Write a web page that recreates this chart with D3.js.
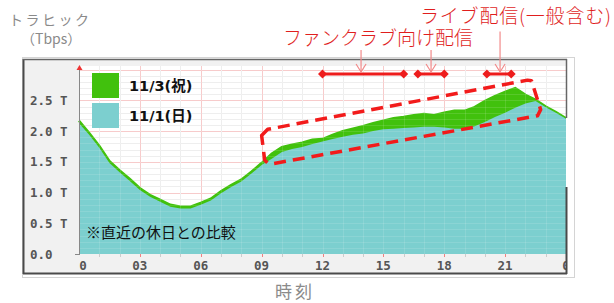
<!DOCTYPE html>
<html><head><meta charset="utf-8">
<script src="https://cdn.jsdelivr.net/npm/d3@7"></script>
<style>html,body{margin:0;padding:0;background:#fff;}svg{display:block;}</style>
</head><body>
<svg id="c" width="614" height="303"></svg>
<script>
// ---- data ----
const hours = [0,0.5,1,1.5,2,2.5,3,3.5,4,4.5,5,5.5,6,6.5,7,7.5,8,8.5,9,9.5,10,10.5,11,11.5,12,12.5,13,13.5,14,14.5,15,15.5,16,16.5,17,17.5,18,18.5,19,19.5,20,20.5,21,21.5,22,22.5,23,23.5,24];
const sun1101 = [2.13,1.94,1.73,1.48,1.33,1.19,1.04,0.93,0.85,0.77,0.74,0.74,0.80,0.87,0.99,1.09,1.18,1.31,1.45,1.55,1.66,1.71,1.74,1.79,1.83,1.87,1.91,1.94,1.96,2.00,2.03,2.04,2.05,2.06,2.07,2.07,2.06,2.04,2.04,2.08,2.15,2.23,2.30,2.38,2.45,2.49,2.39,2.30,2.20];
const hol1103 = [2.17,1.97,1.76,1.51,1.36,1.22,1.07,0.96,0.88,0.80,0.77,0.77,0.83,0.90,1.02,1.12,1.21,1.34,1.48,1.63,1.74,1.78,1.81,1.86,1.87,1.94,2.00,2.04,2.08,2.13,2.17,2.21,2.23,2.26,2.28,2.26,2.30,2.33,2.33,2.39,2.49,2.57,2.64,2.70,2.59,2.51,2.40,2.31,2.21];
const seriesNames = ["11/3(祝)","11/1(日)"];
const yTicks = [0,0.5,1.0,1.5,2.0,2.5];
const yTickLabels = ["0.0","0.5 T","1.0 T","1.5 T","2.0 T","2.5 T"];
const xTicks = [0,3,6,9,12,15,18,21,24];
const xTickLabels = ["0","03","06","09","12","15","18","21","0"];
// annotation ranges (hours) and labels
const liveRanges = [[12,16],[16.7,18],[20.1,21.3]];
const arrowHours = [13.9,17.35,20.75];
const annoLabels = ["ファンクラブ向け配信","ライブ配信(一般含む)"];
// dashed highlight region corners (hour, Tbps)
const boxPts = [[9.0,1.93],[9.3,2.03],[22.1,2.83],[22.3,2.82],[22.75,2.35],[22.6,2.25],[9.55,1.47],[9.3,1.48],[9.15,1.53]];

// ---- chart ----
const svg = d3.select("#c");
const x = d3.scaleLinear().domain([0,24]).range([79,566]);
const y = d3.scaleLinear().domain([0,3.06]).range([254,66]);
const GREEN="#41c10d", CYAN="#7ccfcf";

// frame
svg.append("rect").attr("x",22.5).attr("y",57.5).attr("width",552).attr("height",220).attr("fill","none").attr("stroke","#d4d4d4");
svg.append("rect").attr("x",23).attr("y",59).attr("width",543).attr("height",214).attr("fill","#f1f1f1");
svg.append("rect").attr("x",x(0)).attr("y",y(3.06)).attr("width",x(24)-x(0)).attr("height",y(0)-y(3.06)).attr("fill","#fff");

const grid = svg.append("g");
function drawGrid(g, minorC, majorC, op){
  d3.range(0.1,3.06,0.1).forEach(v=>{
    const major = Math.abs(v*2-Math.round(v*2))<1e-6;
    g.append("line").attr("x1",x(0)).attr("x2",x(24)).attr("y1",Math.round(y(v))+0.5).attr("y2",Math.round(y(v))+0.5)
     .attr("stroke",major?majorC:minorC).attr("stroke-opacity",op);
  });
  d3.range(1,24,1).forEach(h=>{
    g.append("line").attr("y1",y(0)).attr("y2",y(3.06)).attr("x1",Math.round(x(h))+0.5).attr("x2",Math.round(x(h))+0.5)
     .attr("stroke",h%3===0?majorC:minorC).attr("stroke-opacity",op);
  });
}
drawGrid(grid,"#ececec","#f6c4c4",1);

const gData = hours.map((h,i)=>({h,v:hol1103[i]}));
const sData = hours.map((h,i)=>({h,v:sun1101[i]}));
const area = d3.area().x(d=>x(d.h)).y0(y(0)).y1(d=>y(d.v));
const line = d3.line().x(d=>x(d.h)).y(d=>y(d.v));
svg.append("path").datum(gData).attr("d",area).attr("fill",GREEN);
svg.append("path").datum(gData).attr("d",line).attr("fill","none").attr("stroke",GREEN).attr("stroke-width",2.5);
svg.append("path").datum(sData).attr("d",area).attr("fill",CYAN);
const grid2 = svg.append("g");
drawGrid(grid2,"#ffffff","#ffffff",0.12);

// axes
svg.append("line").attr("x1",79.5).attr("x2",79.5).attr("y1",y(0)).attr("y2",y(3.06)+2).attr("stroke","#888");
svg.append("path").attr("d",`M76.5,${y(3.06)+4}L79.5,${y(3.06)-1}L82.5,${y(3.06)+4}Z`).attr("fill","#e33");
svg.append("line").attr("x1",75).attr("x2",80).attr("y1",y(0)+0.5).attr("y2",y(0)+0.5).attr("stroke","#888");
d3.range(1,24,1).forEach(h=>{
  svg.append("line").attr("x1",Math.round(x(h))+0.5).attr("x2",Math.round(x(h))+0.5).attr("y1",y(0)).attr("y2",y(0)+3)
   .attr("stroke",h%3===0?"#f08080":"#ccc");
});
const yl = svg.append("g").attr("font-family","DejaVu Sans Mono").attr("font-weight","bold").attr("font-size","12.5px").attr("fill","#555");
yTicks.forEach((v,i)=>{
  yl.append("text").attr("x",30).attr("y",y(v)).attr("dy","0.36em").text(yTickLabels[i]);
});
svg.append("defs").append("clipPath").attr("id","clipx").append("rect").attr("x",0).attr("y",0).attr("width",566).attr("height",303);
const xl = svg.append("g").attr("clip-path","url(#clipx)").attr("font-family","DejaVu Sans Mono").attr("font-weight","bold").attr("font-size","12.5px").attr("fill","#555").attr("text-anchor","middle");
xTicks.forEach((h,i)=>{
  xl.append("text").attr("x",x(h)+(i===0?4:0)).attr("y",265).attr("dy","0.36em").text(xTickLabels[i]);
});

// frame dark borders
const B="#4a4a4a";
svg.append("line").attr("x1",23.5).attr("x2",23.5).attr("y1",59).attr("y2",274).attr("stroke",B).attr("stroke-width",2);
svg.append("line").attr("x1",23).attr("x2",567).attr("y1",59.5).attr("y2",59.5).attr("stroke","#666").attr("stroke-width",1.5);
svg.append("line").attr("x1",23).attr("x2",567).attr("y1",273.5).attr("y2",273.5).attr("stroke",B).attr("stroke-width",2);
svg.append("line").attr("x1",566.5).attr("x2",566.5).attr("y1",59).attr("y2",118).attr("stroke","#666").attr("stroke-width",1.5);
svg.append("line").attr("x1",566.5).attr("x2",566.5).attr("y1",187).attr("y2",274).attr("stroke",B).attr("stroke-width",2);

// legend
svg.append("rect").attr("x",92).attr("y",73).attr("width",27).attr("height",25).attr("fill",GREEN);
svg.append("rect").attr("x",92).attr("y",103).attr("width",27).attr("height",25).attr("fill",CYAN);
const lg = svg.append("g").attr("font-family","DejaVu Sans, Noto Sans CJK JP").attr("font-weight","bold").attr("font-size","14.5px").attr("fill","#111");
lg.append("text").attr("x",129).attr("y",86).attr("dy","0.36em").text(seriesNames[0]);
lg.append("text").attr("x",129).attr("y",116).attr("dy","0.36em").text(seriesNames[1]);
svg.append("text").attr("x",86).attr("y",233).attr("dy","0.36em").attr("font-family","Noto Sans CJK JP").attr("font-size","15px").attr("fill","#111").text("※直近の休日との比較");

// titles
svg.append("text").attr("x",9).attr("y",20).attr("dy","0.36em").attr("font-family","Noto Sans CJK JP").attr("font-size","14px").attr("letter-spacing","2.5px").attr("fill","#8a8a8a").text("トラヒック");
svg.append("text").attr("x",21).attr("y",39).attr("dy","0.36em").attr("font-family","Noto Sans CJK JP").attr("font-size","14px").attr("fill","#8a8a8a").text("（Tbps）");
svg.append("text").attr("x",275).attr("y",292).attr("dy","0.36em").attr("font-family","Noto Sans CJK JP").attr("font-size","17px").attr("letter-spacing","3px").attr("fill","#8a8a8a").text("時刻");

// dashed highlight box
svg.append("path").datum(boxPts).attr("d",d3.line().x(d=>x(d[0])).y(d=>y(d[1])).curve(d3.curveLinearClosed))
  .attr("fill","none").attr("stroke","#f21b1b").attr("stroke-width",3.5).attr("stroke-dasharray","12,7").attr("stroke-linejoin","round");

// range bars
const RED="#ee1c1c";
const barV = 2.93;
liveRanges.forEach(r=>{
  svg.append("line").attr("x1",x(r[0])).attr("x2",x(r[1])).attr("y1",y(barV)).attr("y2",y(barV)).attr("stroke",RED).attr("stroke-width",3);
  r.forEach(h=>{
    const cx=x(h), cy=y(barV);
    svg.append("path").attr("d",`M${cx-4.5},${cy}L${cx},${cy-4.5}L${cx+4.5},${cy}L${cx},${cy+4.5}Z`).attr("fill",RED);
  });
});
// arrows
const PINK="#f28a8a";
const arrowTop = [3.32,3.32,3.62];
arrowHours.forEach((h,i)=>{
  const ax=x(h), y1=y(arrowTop[i]), y2=y(barV)-2;
  svg.append("line").attr("x1",ax).attr("x2",ax).attr("y1",y1).attr("y2",y2).attr("stroke",PINK).attr("stroke-width",1.2);
  svg.append("path").attr("d",`M${ax-5},${y2-8}L${ax},${y2}L${ax+5},${y2-8}`).attr("fill","none").attr("stroke",PINK).attr("stroke-width",1.2);
});
svg.append("text").attr("x",283).attr("y",38).attr("dy","0.36em").attr("font-family","Noto Sans CJK JP").attr("font-weight","300").attr("font-size","19px").attr("fill","#e01e1e").text(annoLabels[0]);
svg.append("text").attr("x",420).attr("y",16).attr("dy","0.36em").attr("font-family","Noto Sans CJK JP").attr("font-weight","300").attr("font-size","19px").attr("letter-spacing","0.8px").attr("fill","#e01e1e").text(annoLabels[1]);
</script>
</body></html>
